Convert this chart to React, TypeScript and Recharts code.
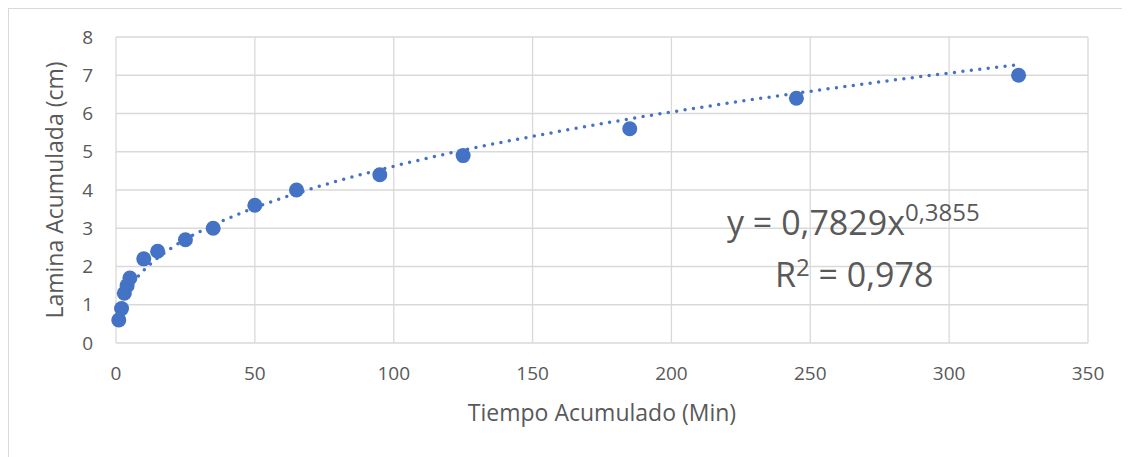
import React from "react";
import {
  ComposedChart,
  Scatter,
  Line,
  XAxis,
  YAxis,
  CartesianGrid,
} from "recharts";

// measured points
const timeMin = [1, 2, 3, 4, 5, 10, 15, 25, 35, 50, 65, 95, 125, 185, 245, 325];
const laminaCm = [0.6, 0.9, 1.3, 1.5, 1.7, 2.2, 2.4, 2.7, 3.0, 3.6, 4.0, 4.4, 4.9, 5.6, 6.4, 7.0];

// power trendline as drawn
const trendX = [1, 2, 3, 5, 10, 15, 25, 35, 50, 65, 80, 95, 125, 155, 185, 215, 245, 285, 325];
const trendY = [0.78, 1.02, 1.2, 1.46, 1.9, 2.22, 2.71, 3.08, 3.54, 3.91, 4.24, 4.53, 5.04, 5.47, 5.86, 6.21, 6.53, 6.92, 7.28];

const xTicks = [0, 50, 100, 150, 200, 250, 300, 350];
const yTicks = [0, 1, 2, 3, 4, 5, 6, 7, 8];

const points = timeMin.map((x, i) => ({ x, y: laminaCm[i] }));
const trend = trendX.map((x, i) => ({ x, t: trendY[i] }));

const BLUE = "#4472C4";
const TEXT = "#595959";
const FONT = "'Open Sans', sans-serif";

export default function App() {
  return (
    <div
      style={{
        position: "relative",
        width: 1130,
        height: 460,
        border: "1px solid #d9d9d9",
        background: "#fff",
        fontFamily: FONT,
      }}
    >
      <ComposedChart
        width={1130}
        height={450}
        margin={{ top: 28, right: 51, left: 0, bottom: 0 }}
      >
        <CartesianGrid stroke="#d9d9d9" strokeWidth={1.3} />
        <XAxis
          type="number"
          dataKey="x"
          domain={[0, 350]}
          ticks={xTicks}
          axisLine={false}
          tickLine={false}
          tickSize={0}
          tickMargin={24}
          height={116}
          tick={{ fill: TEXT, fontSize: 19, fontFamily: FONT }}
          label={{
            value: "Tiempo Acumulado (Min)",
            position: "insideTop",
            offset: 62,
            fill: TEXT,
            fontSize: 23,
            fontFamily: FONT,
          }}
        />
        <YAxis
          type="number"
          domain={[0, 8]}
          ticks={yTicks}
          axisLine={false}
          tickLine={false}
          tickSize={0}
          tickMargin={23}
          width={107}
          tick={{ fill: TEXT, fontSize: 19, fontFamily: FONT }}
          label={{
            value: "Lamina Acumulada (cm)",
            angle: -90,
            position: "insideLeft",
            offset: 46,
            style: { textAnchor: "middle" },
            fill: TEXT,
            fontSize: 23,
            fontFamily: FONT,
          }}
        />
        <Line
          data={trend}
          dataKey="t"
          type="monotone"
          stroke={BLUE}
          strokeWidth={3.5}
          strokeDasharray="0 8.5"
          strokeLinecap="round"
          dot={false}
          activeDot={false}
          isAnimationActive={false}
        />
        <Scatter
          data={points}
          dataKey="y"
          fill={BLUE}
          isAnimationActive={false}
          shape={(p: any) => <circle cx={p.cx} cy={p.cy} r={7.5} fill={BLUE} />}
        />
      </ComposedChart>

      {/* trendline equation */}
      <div
        style={{
          position: "absolute",
          left: 718,
          top: 187,
          fontSize: 34,
          color: TEXT,
          lineHeight: "52px",
          whiteSpace: "nowrap",
        }}
      >
        <div>
          y = 0,7829x<sup style={{ fontSize: 24, verticalAlign: "14px", lineHeight: 0 }}>0,3855</sup>
        </div>
        <div style={{ paddingLeft: 48 }}>
          R<sup style={{ fontSize: 24, verticalAlign: "11px", lineHeight: 0 }}>2</sup> = 0,978
        </div>
      </div>
    </div>
  );
}
